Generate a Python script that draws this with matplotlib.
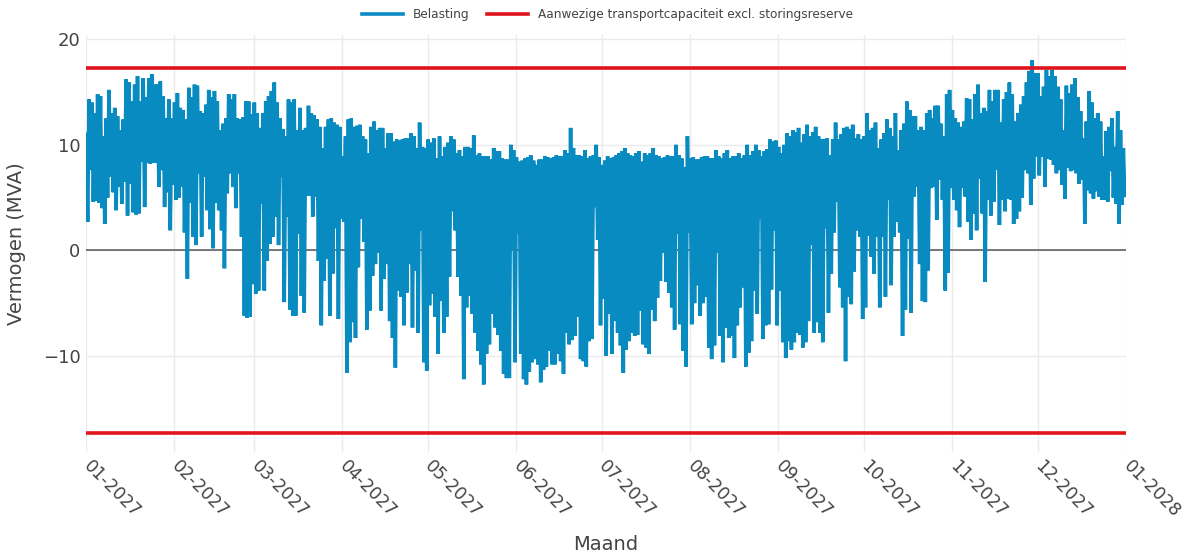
"""
Belasting van een station over 2027, met de aanwezige transportcapaciteit.
Per dag staan het hoogste en het laagste vermogen (MVA), afgelezen uit de grafiek.
"""

import numpy as np
import pandas as pd
import matplotlib
matplotlib.use('Agg')
import matplotlib.pyplot as plt
import matplotlib.dates as mdates

# daily maximum (MVA), per block of days
max_jan_mar = [11.0, 14.3, 14.0, 13.0, 14.8, 14.6, 10.8, 12.5, 15.2, 13.0,
               13.5, 12.7, 11.4, 12.4, 16.2, 15.9, 14.1, 15.7, 16.5, 14.1,
               16.3, 14.5, 16.3, 16.7, 15.7, 15.7, 16.0, 14.6, 12.5, 14.3,
               12.5, 14.0, 14.9, 13.5, 13.3, 12.4, 15.4, 14.5, 15.7, 15.6,
               13.2, 13.0, 13.8, 15.2, 14.5, 15.1, 14.1, 11.4, 12.0, 12.5,
               14.8, 14.3, 14.8, 12.5, 12.4, 12.6, 14.1, 14.1, 12.9, 14.0,
               13.0, 11.6, 13.0, 14.1, 14.6, 15.1, 15.9, 14.0, 12.5, 11.5,
               10.8, 14.3, 14.0]
max_mar_may = [14.3, 11.4, 13.5, 11.4, 11.6, 13.7, 13.0, 12.8, 12.4, 11.7,
               9.7, 11.7, 12.4, 12.5, 12.1, 11.9, 11.7, 8.9, 10.8, 12.4,
               12.5, 11.7, 11.8, 11.9, 10.8, 10.5, 9.2, 11.7, 12.2, 11.4,
               11.6, 11.6, 9.7, 11.1, 11.1, 10.3, 10.5, 10.4, 10.5, 10.6,
               10.6, 11.1, 10.8, 9.7, 12.1, 9.8, 9.7, 10.5, 10.2, 10.6,
               8.7, 10.8, 8.9, 9.8, 10.2, 10.8, 10.5, 9.2, 9.5, 8.9,
               9.8, 9.8, 9.7, 10.9, 9.0, 9.2, 8.9, 8.9, 8.9, 8.6,
               9.7, 9.4, 9.4, 8.7]
max_may_aug = [8.6, 8.6, 10.0, 9.5, 8.8, 8.4, 8.5, 8.7, 8.8, 9.0,
               8.5, 8.1, 8.6, 8.6, 8.9, 8.8, 8.7, 8.8, 9.0, 8.9,
               8.9, 9.5, 9.2, 11.6, 9.7, 9.0, 9.0, 8.9, 9.5, 8.7,
               8.9, 9.0, 10.0, 8.8, 8.1, 8.5, 8.9, 8.7, 8.8, 9.0,
               9.2, 9.4, 9.7, 9.2, 9.0, 8.9, 9.2, 9.4, 8.4, 9.2,
               9.0, 9.2, 9.7, 9.0, 8.9, 8.7, 8.8, 9.0, 8.9, 8.9,
               10.0, 9.0, 8.7, 7.9, 10.8, 8.7, 8.8, 8.6, 8.6, 8.8,
               8.9, 8.9, 8.7, 8.7]
max_aug_oct = [9.5, 8.9, 8.7, 9.2, 9.5, 8.7, 8.9, 8.9, 9.2, 8.7,
               9.0, 10.0, 9.0, 9.4, 10.0, 9.5, 8.9, 9.4, 9.6, 10.5,
               10.3, 10.4, 9.8, 9.2, 10.0, 11.1, 10.8, 11.4, 11.2, 11.6,
               10.2, 11.0, 11.9, 10.8, 11.2, 11.7, 10.8, 10.5, 10.5, 10.6,
               9.0, 10.5, 12.1, 10.5, 11.0, 11.6, 11.7, 11.5, 11.9, 10.6,
               11.0, 10.5, 10.8, 13.0, 11.4, 11.6, 12.1, 9.7, 10.5, 11.1,
               12.4, 11.6, 10.8, 13.0, 9.5, 11.4, 12.0, 14.1, 13.3, 12.7,
               12.7, 11.4, 11.7]
max_oct_dec = [11.4, 13.0, 13.3, 12.5, 13.7, 13.7, 12.0, 10.8, 14.8, 15.2,
               13.3, 12.5, 12.1, 11.7, 12.2, 14.4, 14.3, 12.4, 14.8, 15.7,
               13.0, 13.5, 13.2, 15.2, 14.1, 15.2, 15.2, 12.1, 14.3, 15.0,
               15.9, 14.8, 12.2, 13.0, 13.8, 14.6, 15.9, 17.0, 18.0, 16.8,
               16.8, 14.6, 15.5, 17.1, 16.5, 17.1, 16.5, 15.5, 14.3, 11.4,
               15.6, 14.9, 15.7, 16.3, 14.5, 13.2, 10.6, 12.2, 15.1, 14.0,
               12.5, 13.0, 12.2, 8.9, 11.3, 11.7, 12.5, 9.8, 13.2, 11.4,
               9.7]

# daily minimum (MVA), same blocks
min_jan_mar = [2.7, 7.6, 4.6, 4.7, 4.5, 4.0, 2.5, 5.0, 7.0, 5.5,
               3.8, 6.0, 4.4, 6.5, 3.3, 6.3, 3.6, 3.4, 3.5, 8.4,
               4.1, 8.3, 8.2, 8.3, 8.3, 6.0, 7.6, 4.1, 5.5, 1.9,
               6.2, 4.8, 5.0, 6.0, 1.7, -2.7, 4.5, 1.3, 0.5, 7.3,
               1.3, 7.0, 3.8, 2.0, 0.2, 4.5, 3.8, 1.9, -1.7, 5.4,
               7.3, 6.0, 4.0, 7.3, 1.3, -6.2, -6.4, -6.3, -3.2, -4.1,
               -3.8, 4.4, -3.8, -1.0, 0.6, 1.3, 3.2, 0.5, 7.0, -4.9,
               3.2, -5.6, -6.2]
min_mar_may = [-6.2, 1.6, -4.3, -5.9, 5.2, 5.2, 3.2, 5.1, -1.0, -7.1,
               -2.9, -0.8, -6.2, -2.2, 2.1, -6.5, 3.0, 2.7, -11.6, -8.7,
               -6.8, -8.3, -1.6, 3.0, 0.8, -7.5, -5.7, -2.4, -1.3, -0.2,
               -5.7, -2.7, -1.3, -6.7, -8.3, -11.1, -3.8, -4.4, -7.1, -4.0,
               -1.3, -7.3, -1.9, -7.8, 1.9, -10.6, -11.4, -5.2, -4.1, -6.3,
               -9.8, -4.8, -7.8, -6.3, -2.5, 3.7, 1.9, -2.5, -4.3, -12.2,
               -5.4, -4.3, -6.0, -7.8, -9.5, -10.8, -12.7, -9.8, -8.9, -6.0,
               -7.3, -8.0, -9.5, -11.7]
min_may_aug = [-12.1, -12.1, 0.2, -10.6, 1.6, -9.8, -12.2, -12.7, -11.5, -10.6,
               -10.3, -10.8, -12.5, -11.3, -11.0, -9.5, -10.8, -10.8, -9.8, -10.5,
               -11.7, -7.8, -8.9, -8.5, -8.1, -6.3, -10.3, -10.5, -11.0, -8.6,
               -8.4, 4.1, 1.0, -7.1, -4.6, -10.0, -6.0, -9.8, -6.7, -7.8,
               -9.0, -11.6, -9.4, -8.6, -7.8, -8.1, -8.0, -5.7, -8.9, -9.2,
               -9.8, -5.6, -6.7, -4.5, -2.9, -0.2, -3.0, -4.0, -5.4, -7.5,
               1.6, -7.0, -9.5, -11.0, 1.7, -7.0, -5.0, -3.3, -6.2, -5.0,
               -4.4, -9.2, -10.3, -9.0]
min_aug_oct = [-0.2, -8.1, -10.6, -7.3, -8.3, -8.1, -10.2, -7.1, -5.4, -3.5,
               -11.0, -9.7, -8.6, -3.8, -6.0, 3.0, -8.4, -7.1, -7.0, -3.7,
               1.9, -7.1, -3.8, -8.7, -10.2, -8.6, -9.4, -8.7, -7.8, -8.0,
               -9.2, -8.7, -6.7, 0.5, -7.8, -6.8, -7.8, -8.7, 2.1, -5.9,
               -2.2, 1.7, 4.6, -3.5, -5.4, -10.5, -4.4, -5.1, -2.0, 1.9,
               1.3, -6.5, -5.4, 1.4, -0.6, -2.2, 1.3, -5.4, 1.3, -4.4,
               4.8, -3.3, 1.3, 2.7, 1.7, -8.1, -5.6, 1.1, -5.9, 5.1,
               6.0, -1.3, -4.8]
min_oct_dec = [-4.9, -1.9, 5.9, 6.0, 2.9, 6.7, 4.8, -3.8, -2.1, 5.9,
               4.8, 3.8, 2.2, 5.9, 5.1, 2.7, 1.0, 3.5, 1.9, 6.8,
               3.5, -3.0, 4.8, 3.3, 4.6, 7.6, 2.4, 4.8, 3.7, 4.9,
               4.8, 2.5, 3.0, 3.7, 5.0, 7.6, 7.3, 4.3, 6.8, 8.9,
               7.1, 8.9, 6.0, 8.7, 8.6, 8.1, 7.3, 7.6, 6.2, 4.9,
               7.8, 7.5, 7.6, 7.3, 6.3, 6.7, 2.5, 5.7, 5.4, 4.9,
               5.6, 5.1, 4.8, 4.8, 4.6, 7.5, 5.0, 4.4, 2.5, 4.3,
               5.2]

capaciteit = 17.3  # MVA, both directions
start_date = '2027-01-01'
end_date = '2028-01-01'

BLUE = '#088bc0'
RED = '#e0141c'
TEXT = '#444444'


def build_series():
    '''
    Daily max and min joined into one line: max in the night, min at midday.
    '''
    day_max = np.array(max_jan_mar + max_mar_may + max_may_aug + max_aug_oct + max_oct_dec)
    day_min = np.array(min_jan_mar + min_mar_may + min_may_aug + min_aug_oct + min_oct_dec)
    days = pd.date_range(start_date, periods=len(day_max), freq='D')
    t = np.empty(2 * len(days), dtype='datetime64[ns]')
    t[0::2] = (days + pd.Timedelta(hours=2)).values
    t[1::2] = (days + pd.Timedelta(hours=14)).values
    v = np.empty(2 * len(days))
    v[0::2] = day_max
    v[1::2] = day_min
    return t, v


def create_chart(t, v):
    fig = plt.figure(figsize=(11.91, 5.59), dpi=100)
    ax = fig.add_axes([0.0722, 0.1914, 0.8732, 0.746])

    x0, x1 = pd.Timestamp(start_date), pd.Timestamp(end_date)
    line_belasting, = ax.plot(t, v, color=BLUE, lw=2.6, solid_joinstyle='miter', zorder=3)
    line_cap, = ax.plot([x0, x1], [capaciteit, capaciteit], color=RED, lw=2.6, zorder=4)
    ax.plot([x0, x1], [-capaciteit, -capaciteit], color=RED, lw=2.6, zorder=4)
    ax.axhline(0, color='#555555', lw=1.1, zorder=2)

    ax.set_xlim(x0, x1)
    ax.set_ylim(-19.1, 20.4)
    ax.set_yticks([-10, 0, 10, 20])
    ax.set_yticklabels(['\u221210', '0', '10', '20'])

    ax.xaxis.set_major_locator(mdates.MonthLocator())
    ax.xaxis.set_major_formatter(mdates.DateFormatter('%m-%Y'))

    ax.grid(True, color='#ebebeb', lw=1.0, zorder=0)
    ax.set_axisbelow(True)
    for s in ax.spines.values():
        s.set_visible(False)
    ax.tick_params(length=0, colors=TEXT, labelsize=13)
    ax.tick_params(axis='y', pad=4)
    ax.tick_params(axis='x', pad=8, labelsize=12.5)
    for lab in ax.get_xticklabels():
        lab.set_rotation(-45)
        lab.set_rotation_mode('anchor')
        lab.set_ha('left')
        lab.set_va('center')

    ax.set_ylabel('Vermogen (MVA)', fontsize=14, color=TEXT, labelpad=12)
    ax.set_xlabel('Maand', fontsize=14, color=TEXT, labelpad=10)

    fig.legend([line_belasting, line_cap],
               ['Belasting', 'Aanwezige transportcapaciteit excl. storingsreserve'],
               loc='upper center', bbox_to_anchor=(0.51, 1.005), ncol=2,
               frameon=False, fontsize=8.7, handlelength=3.4, columnspacing=1.5,
               labelcolor=TEXT)

    fig.savefig('out.png', dpi=100, facecolor='white')


t, v = build_series()
create_chart(t, v)
